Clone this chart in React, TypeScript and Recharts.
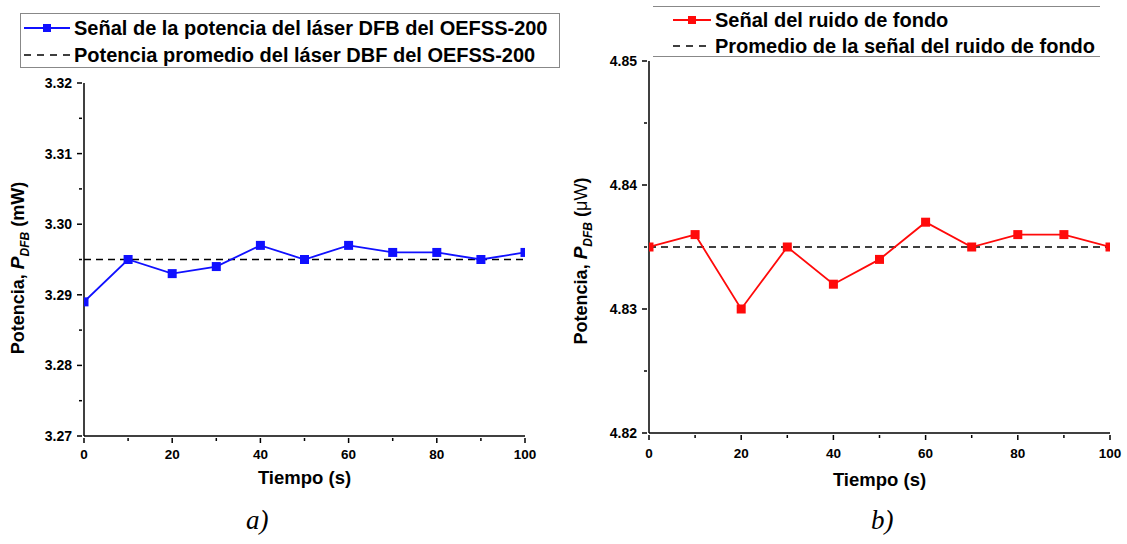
import { LineChart, Line, XAxis, YAxis, Label } from "recharts";

// tiempo (s)
const times = [0, 10, 20, 30, 40, 50, 60, 70, 80, 90, 100];
const timeTicks = [0, 10, 20, 30, 40, 50, 60, 70, 80, 90, 100];

// a) potencia del láser DFB (mW)
const laserPower = [3.289, 3.295, 3.293, 3.294, 3.297, 3.295, 3.297, 3.296, 3.296, 3.295, 3.296];
const laserMean = 3.295;
const laserTicks = [3.27, 3.275, 3.28, 3.285, 3.29, 3.295, 3.3, 3.305, 3.31, 3.315, 3.32];

// b) ruido de fondo (µW)
const noisePower = [4.835, 4.836, 4.83, 4.835, 4.832, 4.834, 4.837, 4.835, 4.836, 4.836, 4.835];
const noiseMean = 4.835;
const noiseTicks = [4.82, 4.825, 4.83, 4.835, 4.84, 4.845, 4.85];

const FONT = '"Liberation Sans", Arial, sans-serif';
const BLUE = "#1010ff";
const RED = "#ff0a0a";

const laserData = times.map((t, i) => ({ t, power: laserPower[i], mean: laserMean }));
const noiseData = times.map((t, i) => ({ t, power: noisePower[i], mean: noiseMean }));

const isMajor = (v: number) => Math.round(v * 1000) % 10 === 0;

const timeTick = (off: number) => (props: any) => {
  const { x, y, payload } = props;
  const major = payload.value % 20 === 0;
  return (
    <g key={`t-${payload.value}`}>
      <line x1={x} x2={x} y1={y} y2={y + (major ? 5 : 3)} stroke="#000" strokeWidth={1.5} />
      {major && (
        <text x={x} y={y + off} textAnchor="middle" fontSize={13.5} fontWeight="bold" fontFamily={FONT} fill="#000">
          {payload.value}
        </text>
      )}
    </g>
  );
};

const PowerTick = (props: any) => {
  const { x, y, payload } = props;
  const major = isMajor(payload.value);
  return (
    <g>
      <line x1={x} x2={x - (major ? 5 : 3)} y1={y} y2={y} stroke="#000" strokeWidth={1.5} />
      {major && (
        <text x={x - 10} y={y + 5} textAnchor="end" fontSize={14} fontWeight="bold" fontFamily={FONT} fill="#000">
          {payload.value.toFixed(2)}
        </text>
      )}
    </g>
  );
};

const Square = (color: string) => (p: any) => (
  <rect key={`sq-${p.index}`} x={p.cx - 4.5} y={p.cy - 4.5} width={9} height={9} fill={color} />
);

const yLabel = (cx: number, cy: number, unit: string, boldUnit: boolean) => () => (
  <text
    x={cx}
    y={cy}
    transform={`rotate(-90 ${cx} ${cy})`}
    textAnchor="middle"
    fontSize={18}
    fontWeight="bold"
    fontFamily={FONT}
    fill="#000"
  >
    Potencia,{" "}
    <tspan fontStyle="italic" fontSize={19}>P</tspan>
    <tspan fontStyle="italic" fontSize={12} dy={5}>DFB</tspan>
    <tspan dy={-5}> (</tspan>
    <tspan fontWeight={boldUnit ? "bold" : "normal"}>{unit}</tspan>
    <tspan>)</tspan>
  </text>
);

const xLabel = (dy: number) => (props: any) => {
  const vb = props.viewBox;
  return (
    <text x={vb.x + vb.width / 2} y={vb.y + dy} textAnchor="middle" fontSize={18.5} fontWeight="bold" fontFamily={FONT} fill="#000">
      Tiempo (s)
    </text>
  );
};

const LegendRow = ({ color, dashed, text, top, left, w }: any) => (
  <div style={{ position: "absolute", left, top, height: 26, display: "flex", alignItems: "center" }}>
    <svg width={w} height={12} style={{ marginRight: 4 }}>
      {dashed ? (
        <line x1={0} x2={w} y1={6} y2={6} stroke="#000" strokeWidth={1.5} strokeDasharray="7 6" />
      ) : (
        <>
          <line x1={0} x2={w} y1={6} y2={6} stroke={color} strokeWidth={2} />
          <rect x={w / 2 - 4} y={2} width={8} height={8} fill={color} />
        </>
      )}
    </svg>
    <span style={{ fontSize: 20, fontWeight: "bold", fontFamily: FONT, whiteSpace: "nowrap" }}>{text}</span>
  </div>
);

const axisStyle = { stroke: "#000", strokeWidth: 1.5 };

export default function App() {
  return (
    <div style={{ position: "absolute", left: 0, top: 0, width: 1127, height: 544, background: "#fff", overflow: "hidden" }}>
      {/* panel a */}
      <div style={{ position: "absolute", left: 0, top: 0 }}>
        <LineChart width={560} height={544} data={laserData} margin={{ top: 83, right: 35, bottom: 78, left: 24 }}>
          <XAxis
            dataKey="t"
            type="number"
            domain={[0, 100]}
            ticks={timeTicks}
            interval={0}
            tickSize={0}
            tickLine={false}
            tick={timeTick(21)}
            height={30}
            axisLine={axisStyle}
            allowDataOverflow
          >
            <Label content={xLabel(48)} />
          </XAxis>
          <YAxis
            type="number"
            domain={[3.27, 3.32]}
            ticks={laserTicks}
            interval={0}
            tickSize={0}
            tickLine={false}
            tick={<PowerTick />}
            width={60}
            axisLine={axisStyle}
            allowDataOverflow
          >
            <Label content={yLabel(24, 268, "mW", true)} />
          </YAxis>
          <Line dataKey="mean" stroke="#000" strokeWidth={1.5} strokeDasharray="7 5" dot={false} isAnimationActive={false} />
          <Line dataKey="power" stroke={BLUE} strokeWidth={1.8} dot={Square(BLUE)} activeDot={false} isAnimationActive={false} />
        </LineChart>
      </div>
      <div style={{ position: "absolute", left: 20, top: 13, width: 540, height: 55, border: "1px solid #888", boxSizing: "border-box", background: "#fff" }} />
      <LegendRow color={BLUE} w={46} text="Señal de la potencia del láser DFB del OEFSS-200" top={15} left={24} />
      <LegendRow dashed w={46} text="Potencia promedio del láser DBF del OEFSS-200" top={42} left={24} />
      <div style={{ position: "absolute", left: 246, top: 505, fontFamily: '"Liberation Serif", "Times New Roman", serif', fontStyle: "italic", fontSize: 27 }}>a)</div>

      {/* panel b */}
      <div style={{ position: "absolute", left: 560, top: 0 }}>
        <LineChart width={567} height={544} data={noiseData} margin={{ top: 61, right: 17, bottom: 81, left: 29 }}>
          <XAxis
            dataKey="t"
            type="number"
            domain={[0, 100]}
            ticks={timeTicks}
            interval={0}
            tickSize={0}
            tickLine={false}
            tick={timeTick(23)}
            height={30}
            axisLine={axisStyle}
            allowDataOverflow
          >
            <Label content={xLabel(53)} />
          </XAxis>
          <YAxis
            type="number"
            domain={[4.82, 4.85]}
            ticks={noiseTicks}
            interval={0}
            tickSize={0}
            tickLine={false}
            tick={<PowerTick />}
            width={60}
            axisLine={axisStyle}
            allowDataOverflow
          >
            <Label content={yLabel(27, 261, "μW", false)} />
          </YAxis>
          <Line dataKey="mean" stroke="#000" strokeWidth={1.5} strokeDasharray="7 5" dot={false} isAnimationActive={false} />
          <Line dataKey="power" stroke={RED} strokeWidth={1.8} dot={Square(RED)} activeDot={false} isAnimationActive={false} />
        </LineChart>
      </div>
      <div style={{ position: "absolute", left: 653, top: 6, width: 447, borderTop: "1px solid #888" }} />
      <div style={{ position: "absolute", left: 653, top: 56, width: 447, borderTop: "1px solid #888" }} />
      <LegendRow color={RED} w={38} text="Señal del ruido de fondo" top={7} left={673} />
      <LegendRow dashed w={38} text="Promedio de la señal del ruido de fondo" top={33} left={673} />
      <div style={{ position: "absolute", left: 871, top: 505, fontFamily: '"Liberation Serif", "Times New Roman", serif', fontStyle: "italic", fontSize: 27 }}>b)</div>
    </div>
  );
}
